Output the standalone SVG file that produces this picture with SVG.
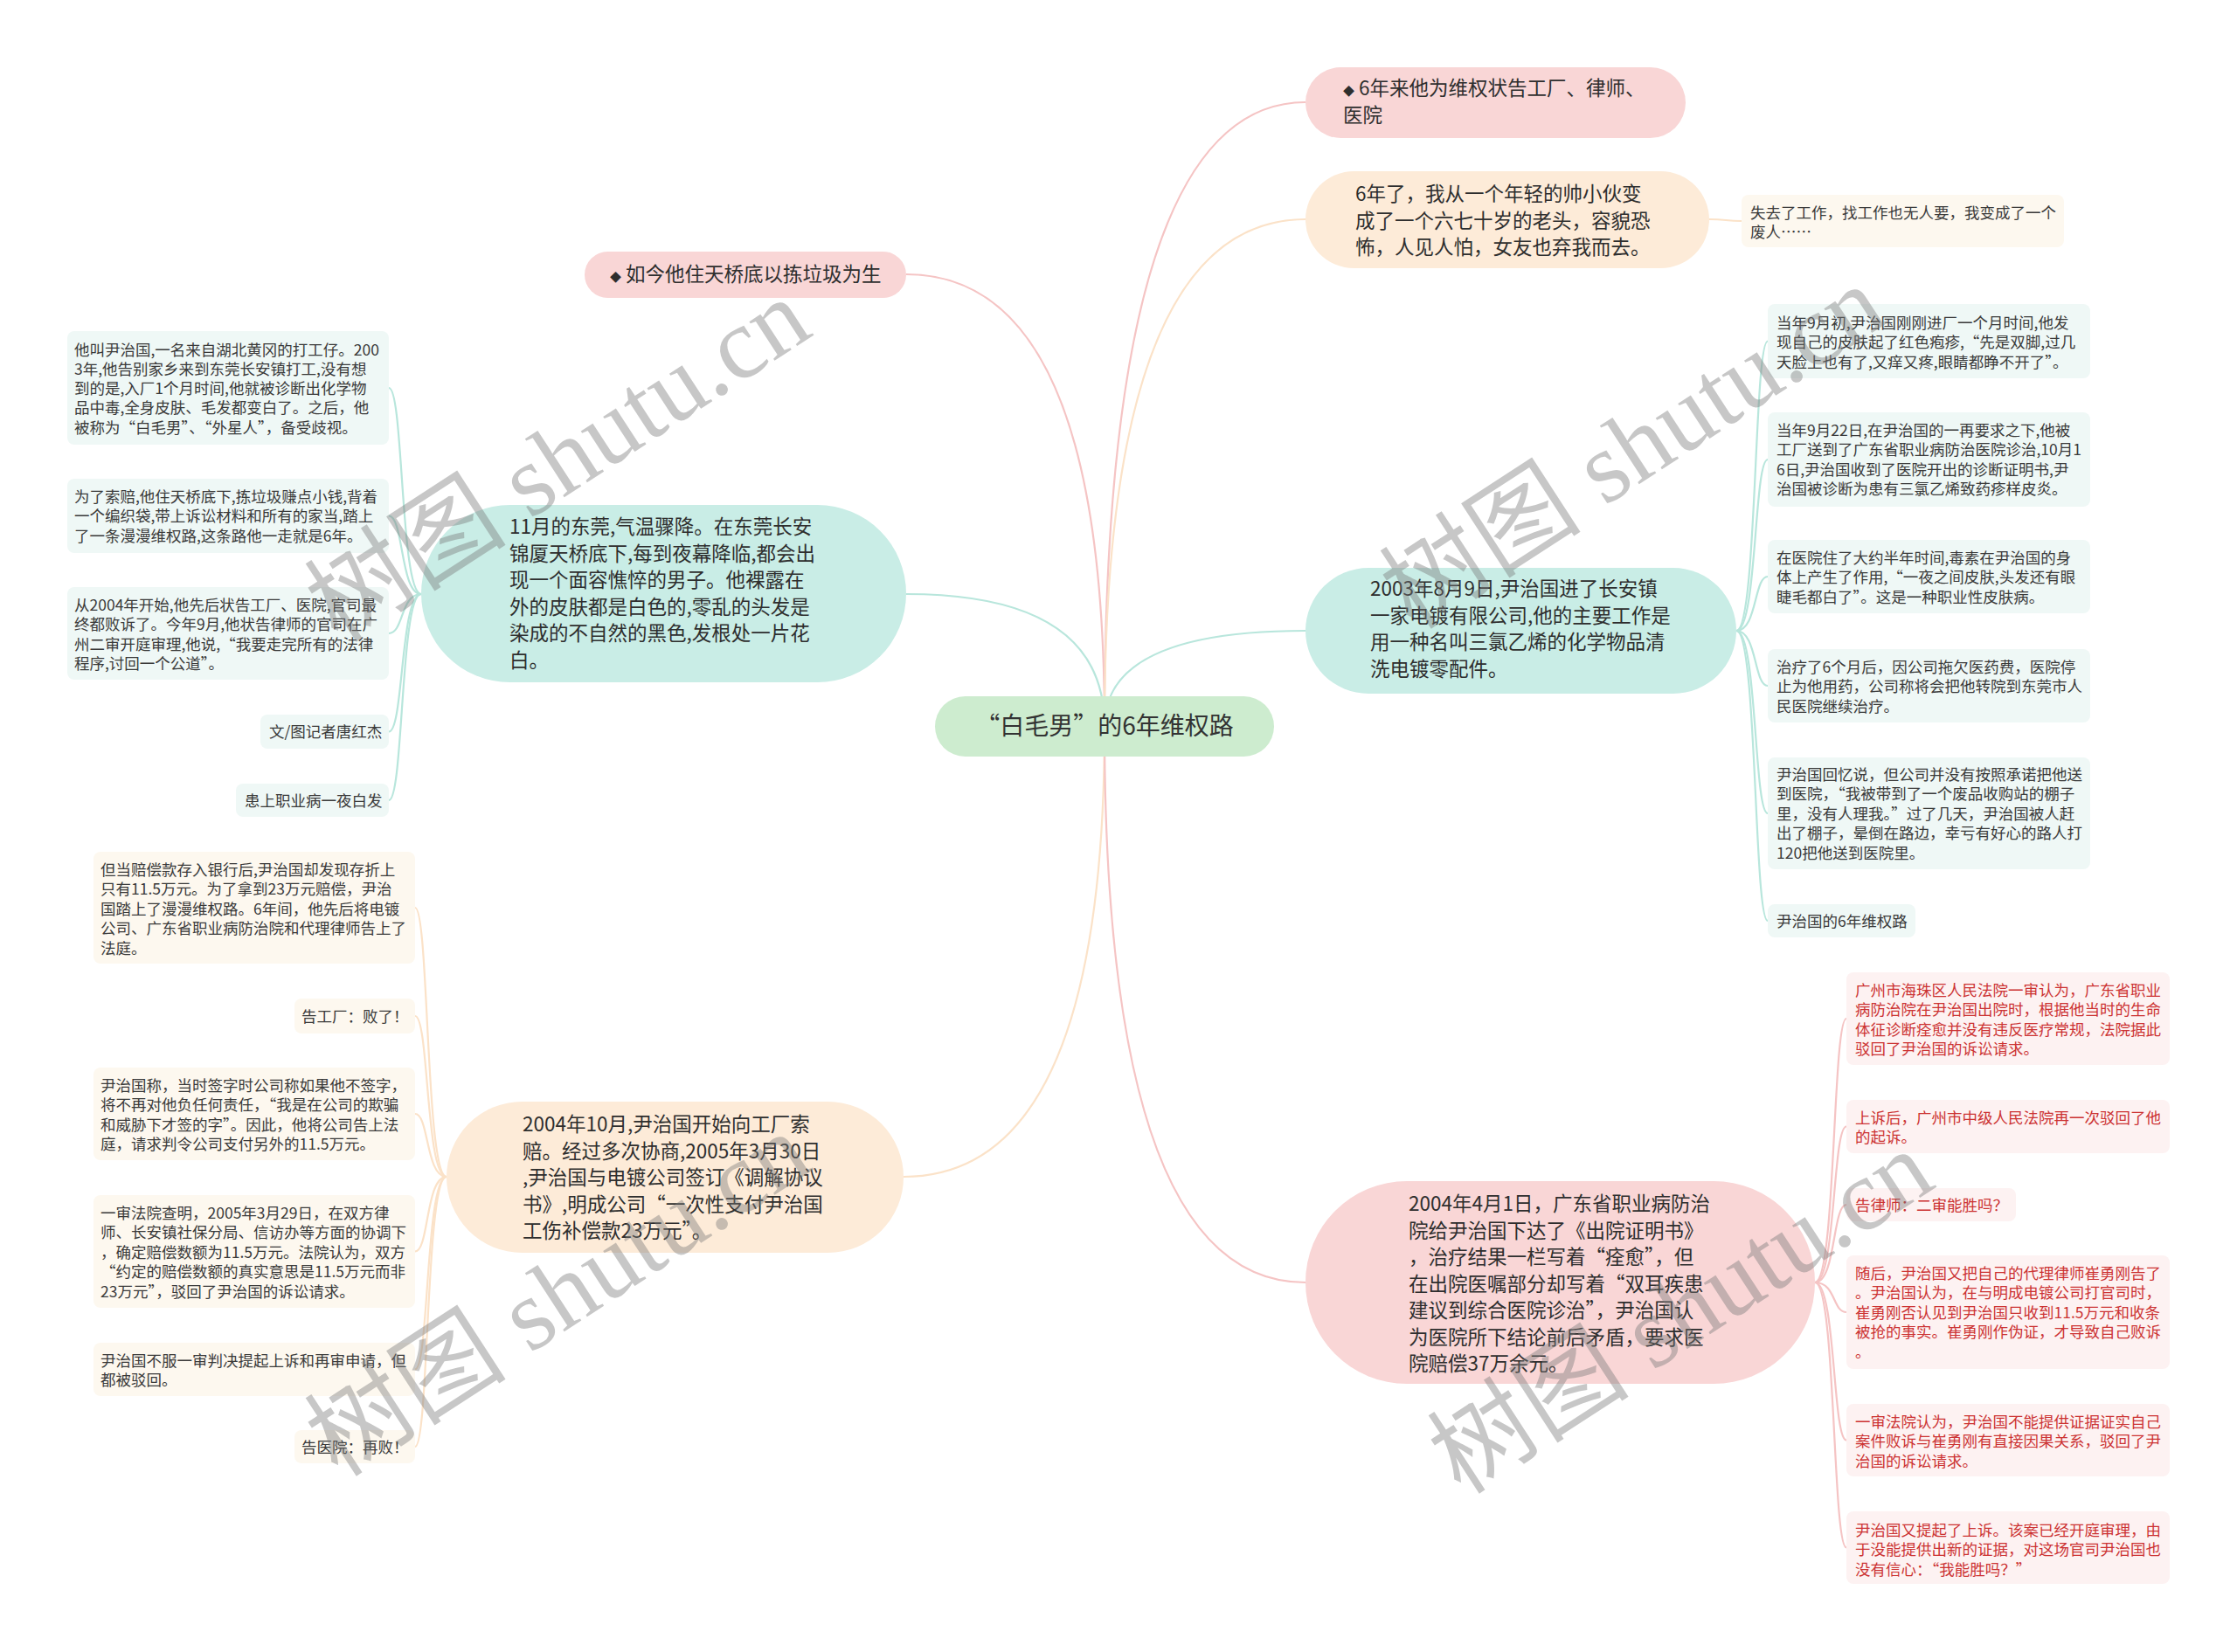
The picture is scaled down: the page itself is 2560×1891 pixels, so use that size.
<svg xmlns="http://www.w3.org/2000/svg" width="2560" height="1891" viewBox="0 0 2560 1891">
<style>
.t{font-family:"Noto Sans CJK SC","Noto Sans",sans-serif;}
.root{font-size:28px;fill:#333;}
.main{font-size:22.5px;fill:#2e2e2e;}
.leaf{font-size:17.5px;fill:#3a3a3a;}
.red{fill:#cc3333;}
.dia{font-size:13px;}
.cp{fill:none;stroke:#f5c4c4;stroke-width:2.2;}
.co{fill:none;stroke:#fbe2c8;stroke-width:2.2;}
.ct{fill:none;stroke:#b8e6dc;stroke-width:2.2;}
.bp{fill:#f9d6d6;}
.bo{fill:#fdebd8;}
.bt{fill:#c9ede6;}
.lt{fill:#eff8f6;}
.lo{fill:#fdf8ef;}
.lp{fill:#fdf2f2;}
.wm{font-family:"Liberation Serif","Noto Sans CJK SC",serif;font-size:116px;fill:#7a7a7a;fill-opacity:0.42;}
</style>
<rect width="2560" height="1891" fill="#ffffff"/>
<g id="connectors">
<path class="cp" d="M1264 831 Q1264 314 1037 314"/>
<path class="ct" d="M1264 831 Q1264 680 1037 680"/>
<path class="co" d="M1264 831 Q1264 1347 1034 1347"/>
<path class="cp" d="M1264 831 Q1264 117 1494 117"/>
<path class="co" d="M1264 831 Q1264 251 1494 251"/>
<path class="ct" d="M1264 831 Q1264 722 1494 722"/>
<path class="cp" d="M1264 831 Q1264 1468 1494 1468"/>
<path class="ct" d="M482 680 C458 680 462 444 445 444"/>
<path class="ct" d="M482 680 C458 680 462 590.5 445 590.5"/>
<path class="ct" d="M482 680 C458 680 462 725 445 725"/>
<path class="ct" d="M482 680 C458 680 462 837.5 445 837.5"/>
<path class="ct" d="M482 680 C458 680 462 916 445 916"/>
<path class="co" d="M511 1347 C487 1347 491 1039 475 1039"/>
<path class="co" d="M511 1347 C487 1347 491 1163 475 1163"/>
<path class="co" d="M511 1347 C487 1347 491 1275 475 1275"/>
<path class="co" d="M511 1347 C487 1347 491 1432.5 475 1432.5"/>
<path class="co" d="M511 1347 C487 1347 491 1567.5 475 1567.5"/>
<path class="co" d="M511 1347 C487 1347 491 1656 475 1656"/>
<path class="co" d="M1956 251 C1975 251 1975 253 1993 253"/>
<path class="ct" d="M1987 722 C2011 722 2007 390.5 2023 390.5"/>
<path class="ct" d="M1987 722 C2011 722 2007 526 2023 526"/>
<path class="ct" d="M1987 722 C2011 722 2007 660 2023 660"/>
<path class="ct" d="M1987 722 C2011 722 2007 785 2023 785"/>
<path class="ct" d="M1987 722 C2011 722 2007 931 2023 931"/>
<path class="ct" d="M1987 722 C2011 722 2007 1054 2023 1054"/>
<path class="cp" d="M2077 1468 C2101 1468 2097 1166 2113 1166"/>
<path class="cp" d="M2077 1468 C2101 1468 2097 1289.5 2113 1289.5"/>
<path class="cp" d="M2077 1468 C2101 1468 2097 1379 2113 1379"/>
<path class="cp" d="M2077 1468 C2101 1468 2097 1502 2113 1502"/>
<path class="cp" d="M2077 1468 C2101 1468 2097 1648.5 2113 1648.5"/>
<path class="cp" d="M2077 1468 C2101 1468 2097 1771.5 2113 1771.5"/>
</g>
<g id="root">
<rect x="1070" y="797" width="388" height="69" rx="34.5" fill="#cdeccf"/>
<text class="t root" x="1264" y="841" text-anchor="middle">“白毛男”的6年维权路</text>
</g>
<g id="n-left-pink">
<rect class="bp" x="669" y="288" width="368" height="53" rx="26.5"/>
<text class="t main" x="698" y="322"><tspan class="dia">◆</tspan> 如今他住天桥底以拣垃圾为生</text>
</g>
<g id="n-left-teal">
<rect class="bt" x="482" y="578" width="555" height="203" rx="101.5"/>
<text class="t main" x="583"><tspan x="583" y="611">11月的东莞,气温骤降。在东莞长安</tspan><tspan x="583" y="641.5">锦厦天桥底下,每到夜幕降临,都会出</tspan><tspan x="583" y="672">现一个面容憔悴的男子。他裸露在</tspan><tspan x="583" y="702.5">外的皮肤都是白色的,零乱的头发是</tspan><tspan x="583" y="733">染成的不自然的黑色,发根处一片花</tspan><tspan x="583" y="763.5">白。</tspan></text>
</g>
<g id="n-left-peach">
<rect class="bo" x="511" y="1261" width="523" height="173" rx="86.5"/>
<text class="t main"><tspan x="598" y="1295">2004年10月,尹治国开始向工厂索</tspan><tspan x="598" y="1325.5">赔。经过多次协商,2005年3月30日</tspan><tspan x="598" y="1356">,尹治国与电镀公司签订《调解协议</tspan><tspan x="598" y="1386.5">书》,明成公司“一次性支付尹治国</tspan><tspan x="598" y="1417">工伤补偿款23万元”。</tspan></text>
</g>
<g id="n-right-pink">
<rect class="bp" x="1494" y="77" width="435" height="81" rx="40.5"/>
<text class="t main"><tspan x="1537" y="109"><tspan class="dia">◆</tspan> 6年来他为维权状告工厂、律师、</tspan><tspan x="1537" y="140">医院</tspan></text>
</g>
<g id="n-right-peach">
<rect class="bo" x="1494" y="196" width="462" height="111" rx="55.5"/>
<text class="t main"><tspan x="1551" y="230">6年了，我从一个年轻的帅小伙变</tspan><tspan x="1551" y="260.5">成了一个六七十岁的老头，容貌恐</tspan><tspan x="1551" y="291">怖，人见人怕，女友也弃我而去。</tspan></text>
</g>
<g id="n-right-teal">
<rect class="bt" x="1494" y="650" width="493" height="144" rx="72"/>
<text class="t main"><tspan x="1568" y="682">2003年8月9日,尹治国进了长安镇</tspan><tspan x="1568" y="712.5">一家电镀有限公司,他的主要工作是</tspan><tspan x="1568" y="743">用一种名叫三氯乙烯的化学物品清</tspan><tspan x="1568" y="773.5">洗电镀零配件。</tspan></text>
</g>
<g id="n-right-pink2">
<rect class="bp" x="1494" y="1352" width="583" height="232" rx="116"/>
<text class="t main"><tspan x="1612" y="1386">2004年4月1日，广东省职业病防治</tspan><tspan x="1612" y="1416.5">院给尹治国下达了《出院证明书》</tspan><tspan x="1612" y="1447">，治疗结果一栏写着“痊愈”，但</tspan><tspan x="1612" y="1477.5">在出院医嘱部分却写着“双耳疾患</tspan><tspan x="1612" y="1508">建议到综合医院诊治”，尹治国认</tspan><tspan x="1612" y="1538.5">为医院所下结论前后矛盾，要求医</tspan><tspan x="1612" y="1569">院赔偿37万余元。</tspan></text>
</g>
<g id="leaf-L1">
<rect class="lt" x="77" y="379" width="368" height="130" rx="8"/>
<text class="t leaf"><tspan x="85" y="406.5">他叫尹治国,一名来自湖北黄冈的打工仔。200</tspan><tspan x="85" y="428.8">3年,他告别家乡来到东莞长安镇打工,没有想</tspan><tspan x="85" y="451.1">到的是,入厂1个月时间,他就被诊断出化学物</tspan><tspan x="85" y="473.4">品中毒,全身皮肤、毛发都变白了。之后，他</tspan><tspan x="85" y="495.7">被称为“白毛男”、“外星人”，备受歧视。</tspan></text>
</g>
<g id="leaf-L2">
<rect class="lt" x="77" y="548" width="368" height="85" rx="8"/>
<text class="t leaf"><tspan x="85" y="574.5">为了索赔,他住天桥底下,拣垃圾赚点小钱,背着</tspan><tspan x="85" y="597">一个编织袋,带上诉讼材料和所有的家当,踏上</tspan><tspan x="85" y="619.5">了一条漫漫维权路,这条路他一走就是6年。</tspan></text>
</g>
<g id="leaf-L3">
<rect class="lt" x="77" y="672" width="368" height="106" rx="8"/>
<text class="t leaf"><tspan x="85" y="698.5">从2004年开始,他先后状告工厂、医院,官司最</tspan><tspan x="85" y="721">终都败诉了。今年9月,他状告律师的官司在广</tspan><tspan x="85" y="743.5">州二审开庭审理,他说,“我要走完所有的法律</tspan><tspan x="85" y="766">程序,讨回一个公道”。</tspan></text>
</g>
<g id="leaf-L4">
<rect class="lt" x="298" y="818" width="147" height="39" rx="8"/>
<text class="t leaf" x="308" y="844">文/图记者唐红杰</text>
</g>
<g id="leaf-L5">
<rect class="lt" x="270" y="897" width="175" height="38" rx="8"/>
<text class="t leaf" x="280" y="922.5">患上职业病一夜白发</text>
</g>
<g id="leaf-B1">
<rect class="lo" x="107" y="975" width="368" height="128" rx="8"/>
<text class="t leaf"><tspan x="115" y="1001.5">但当赔偿款存入银行后,尹治国却发现存折上</tspan><tspan x="115" y="1024">只有11.5万元。为了拿到23万元赔偿，尹治</tspan><tspan x="115" y="1046.5">国踏上了漫漫维权路。6年间，他先后将电镀</tspan><tspan x="115" y="1069">公司、广东省职业病防治院和代理律师告上了</tspan><tspan x="115" y="1091.5">法庭。</tspan></text>
</g>
<g id="leaf-B2">
<rect class="lo" x="337" y="1143" width="138" height="40" rx="8"/>
<text class="t leaf" x="345" y="1169.5">告工厂：败了！</text>
</g>
<g id="leaf-B3">
<rect class="lo" x="107" y="1222" width="368" height="106" rx="8"/>
<text class="t leaf"><tspan x="115" y="1248.5">尹治国称，当时签字时公司称如果他不签字，</tspan><tspan x="115" y="1271">将不再对他负任何责任，“我是在公司的欺骗</tspan><tspan x="115" y="1293.5">和威胁下才签的字”。因此，他将公司告上法</tspan><tspan x="115" y="1316">庭，请求判令公司支付另外的11.5万元。</tspan></text>
</g>
<g id="leaf-B4">
<rect class="lo" x="107" y="1368" width="368" height="129" rx="8"/>
<text class="t leaf"><tspan x="115" y="1394.5">一审法院查明，2005年3月29日，在双方律</tspan><tspan x="115" y="1417">师、长安镇社保分局、信访办等方面的协调下</tspan><tspan x="115" y="1439.5">，确定赔偿数额为11.5万元。法院认为，双方</tspan><tspan x="115" y="1462">“约定的赔偿数额的真实意思是11.5万元而非</tspan><tspan x="115" y="1484.5">23万元”，驳回了尹治国的诉讼请求。</tspan></text>
</g>
<g id="leaf-B5">
<rect class="lo" x="107" y="1537" width="368" height="61" rx="8"/>
<text class="t leaf"><tspan x="115" y="1563.5">尹治国不服一审判决提起上诉和再审申请，但</tspan><tspan x="115" y="1586">都被驳回。</tspan></text>
</g>
<g id="leaf-B6">
<rect class="lo" x="337" y="1637" width="138" height="38" rx="8"/>
<text class="t leaf" x="345" y="1662.5">告医院：再败！</text>
</g>
<g id="leaf-R1">
<rect class="lo" x="1993" y="223" width="369" height="60" rx="8"/>
<text class="t leaf"><tspan x="2003" y="249.5">失去了工作，找工作也无人要，我变成了一个</tspan><tspan x="2003" y="272">废人……</tspan></text>
</g>
<g id="leaf-R2">
<rect class="lt" x="2023" y="348" width="369" height="85" rx="8"/>
<text class="t leaf"><tspan x="2033" y="375.5">当年9月初,尹治国刚刚进厂一个月时间,他发</tspan><tspan x="2033" y="398">现自己的皮肤起了红色疱疹,“先是双脚,过几</tspan><tspan x="2033" y="420.5">天脸上也有了,又痒又疼,眼睛都睁不开了”。</tspan></text>
</g>
<g id="leaf-R3">
<rect class="lt" x="2023" y="472" width="369" height="108" rx="8"/>
<text class="t leaf"><tspan x="2033" y="498.5">当年9月22日,在尹治国的一再要求之下,他被</tspan><tspan x="2033" y="521">工厂送到了广东省职业病防治医院诊治,10月1</tspan><tspan x="2033" y="543.5">6日,尹治国收到了医院开出的诊断证明书,尹</tspan><tspan x="2033" y="566">治国被诊断为患有三氯乙烯致药疹样皮炎。</tspan></text>
</g>
<g id="leaf-R4">
<rect class="lt" x="2023" y="618" width="369" height="84" rx="8"/>
<text class="t leaf"><tspan x="2033" y="644.5">在医院住了大约半年时间,毒素在尹治国的身</tspan><tspan x="2033" y="667">体上产生了作用,“一夜之间皮肤,头发还有眼</tspan><tspan x="2033" y="689.5">睫毛都白了”。这是一种职业性皮肤病。</tspan></text>
</g>
<g id="leaf-R5">
<rect class="lt" x="2023" y="743" width="369" height="84" rx="8"/>
<text class="t leaf"><tspan x="2033" y="769.5">治疗了6个月后，因公司拖欠医药费，医院停</tspan><tspan x="2033" y="792">止为他用药，公司称将会把他转院到东莞市人</tspan><tspan x="2033" y="814.5">民医院继续治疗。</tspan></text>
</g>
<g id="leaf-R6">
<rect class="lt" x="2023" y="867" width="369" height="128" rx="8"/>
<text class="t leaf"><tspan x="2033" y="892.5">尹治国回忆说，但公司并没有按照承诺把他送</tspan><tspan x="2033" y="915">到医院，“我被带到了一个废品收购站的棚子</tspan><tspan x="2033" y="937.5">里，没有人理我。”过了几天，尹治国被人赶</tspan><tspan x="2033" y="960">出了棚子，晕倒在路边，幸亏有好心的路人打</tspan><tspan x="2033" y="982.5">120把他送到医院里。</tspan></text>
</g>
<g id="leaf-R7">
<rect class="lt" x="2023" y="1035" width="169" height="38" rx="8"/>
<text class="t leaf" x="2033" y="1060.5">尹治国的6年维权路</text>
</g>
<g id="leaf-P1">
<rect class="lp" x="2113" y="1113" width="370" height="106" rx="8"/>
<text class="t leaf red"><tspan x="2123" y="1139.5">广州市海珠区人民法院一审认为，广东省职业</tspan><tspan x="2123" y="1162">病防治院在尹治国出院时，根据他当时的生命</tspan><tspan x="2123" y="1184.5">体征诊断痊愈并没有违反医疗常规，法院据此</tspan><tspan x="2123" y="1207">驳回了尹治国的诉讼请求。</tspan></text>
</g>
<g id="leaf-P2">
<rect class="lp" x="2113" y="1259" width="370" height="61" rx="8"/>
<text class="t leaf red"><tspan x="2123" y="1285.5">上诉后，广州市中级人民法院再一次驳回了他</tspan><tspan x="2123" y="1308">的起诉。</tspan></text>
</g>
<g id="leaf-P3">
<rect class="lp" x="2113" y="1360" width="194" height="38" rx="8"/>
<text class="t leaf red" x="2123" y="1385.5">告律师：二审能胜吗？</text>
</g>
<g id="leaf-P4">
<rect class="lp" x="2113" y="1437" width="370" height="130" rx="8"/>
<text class="t leaf red"><tspan x="2123" y="1463.5">随后，尹治国又把自己的代理律师崔勇刚告了</tspan><tspan x="2123" y="1486">。尹治国认为，在与明成电镀公司打官司时，</tspan><tspan x="2123" y="1508.5">崔勇刚否认见到尹治国只收到11.5万元和收条</tspan><tspan x="2123" y="1531">被抢的事实。崔勇刚作伪证，才导致自己败诉</tspan><tspan x="2123" y="1553.5">。</tspan></text>
</g>
<g id="leaf-P5">
<rect class="lp" x="2113" y="1607" width="370" height="83" rx="8"/>
<text class="t leaf red"><tspan x="2123" y="1633.5">一审法院认为，尹治国不能提供证据证实自己</tspan><tspan x="2123" y="1656">案件败诉与崔勇刚有直接因果关系，驳回了尹</tspan><tspan x="2123" y="1678.5">治国的诉讼请求。</tspan></text>
</g>
<g id="leaf-P6">
<rect class="lp" x="2113" y="1730" width="370" height="83" rx="8"/>
<text class="t leaf red"><tspan x="2123" y="1757.5">尹治国又提起了上诉。该案已经开庭审理，由</tspan><tspan x="2123" y="1780">于没能提供出新的证据，对这场官司尹治国也</tspan><tspan x="2123" y="1802.5">没有信心：“我能胜吗？”</tspan></text>
</g>
<g id="watermarks">
<text class="wm" text-anchor="middle" transform="translate(660 560) rotate(-33)">树图 shutu.cn</text>
<text class="wm" text-anchor="middle" transform="translate(1890 545) rotate(-33)">树图 shutu.cn</text>
<text class="wm" text-anchor="middle" transform="translate(660 1515) rotate(-33)">树图 shutu.cn</text>
<text class="wm" text-anchor="middle" transform="translate(1945 1535) rotate(-33)">树图 shutu.cn</text>
</g>
</svg>
